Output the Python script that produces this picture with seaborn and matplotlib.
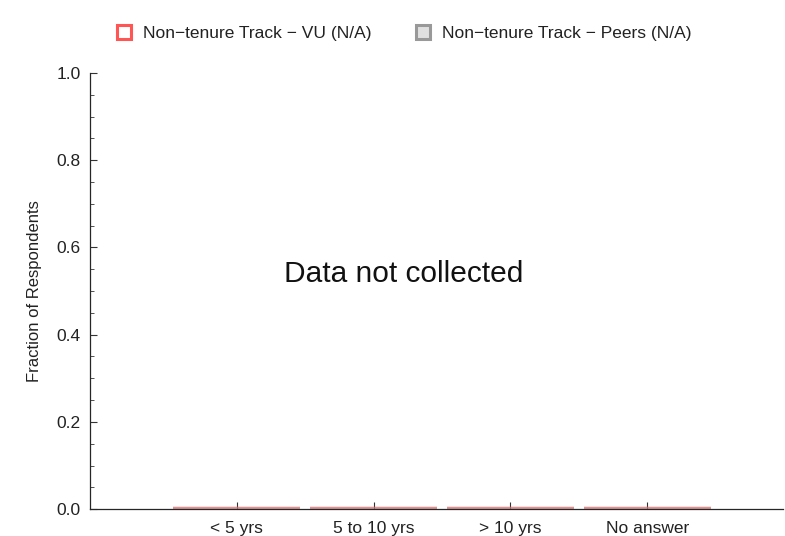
import matplotlib
matplotlib.use("Agg")
import matplotlib.pyplot as plt
from matplotlib.patches import Patch
from matplotlib.ticker import MultipleLocator
import numpy as np
import pandas as pd
import seaborn as sns

# chart data
categories = ["< 5 yrs", "5 to 10 yrs", "> 10 yrs", "No answer"]
vu_values = [0.0, 0.0, 0.0, 0.0]
peers_values = [0.0, 0.0, 0.0, 0.0]
series_labels = ["Non\u2212tenure Track \u2212 VU (N/A)", "Non\u2212tenure Track \u2212 Peers (N/A)"]

sns.set_style("ticks")
plt.rcParams["font.family"] = ["Liberation Sans", "DejaVu Sans"]

df = pd.DataFrame({"category": categories, "vu": vu_values, "peers": peers_values})

fig, ax = plt.subplots(figsize=(7.85, 5.36), dpi=100)
fig.subplots_adjust(left=0.115, right=0.997, top=0.864, bottom=0.05)

# peers drawn first, VU on top (both zero here)
sns.barplot(data=df, x="category", y="peers", ax=ax, width=0.93,
            color="#e6e6e6", edgecolor=(0.6, 0.6, 0.6, 0.4), linewidth=3.2)
sns.barplot(data=df, x="category", y="vu", ax=ax, width=0.93,
            facecolor="none", edgecolor=(0.9, 0.4, 0.4, 0.6), linewidth=3.2)

ax.set_xlim(-1.07, 3.99)
ax.set_ylim(0, 1.0)
ax.yaxis.set_major_locator(MultipleLocator(0.2))
ax.yaxis.set_minor_locator(MultipleLocator(0.05))
ax.set_yticks(np.arange(0, 1.01, 0.2))
ax.set_yticklabels([f"{v:.1f}" for v in np.arange(0, 1.01, 0.2)])
ax.tick_params(axis="both", which="both", direction="in", labelsize=12.5,
               color="#333333", labelcolor="#222222")
ax.tick_params(axis="both", which="major", length=5)
ax.tick_params(axis="x", which="major", pad=8.5)
ax.tick_params(axis="y", which="major", pad=7)
ax.tick_params(axis="y", which="minor", length=3)
ax.set_xlabel("")
ax.set_ylabel("Fraction of Respondents", fontsize=12, labelpad=10, color="#222222")
sns.despine(ax=ax)
for s in ["left", "bottom"]:
    ax.spines[s].set_linewidth(0.9)
    ax.spines[s].set_zorder(5)

ax.text(0.453, 0.54, "Data not collected", transform=ax.transAxes,
        ha="center", va="center", fontsize=21.5, color="#111111")

handles = [
    Patch(facecolor="white", edgecolor="#ff5555", linewidth=2.2),
    Patch(facecolor="#e0e0e0", edgecolor="#999999", linewidth=2.2),
]
fig.legend(handles, series_labels, loc="center", bbox_to_anchor=(0.515, 0.938),
           ncol=2, frameon=False, fontsize=12.5, handlelength=0.8, handleheight=0.8,
           columnspacing=2.6, handletextpad=0.7, labelcolor="#222222")

fig.savefig("out.png", dpi=100)
